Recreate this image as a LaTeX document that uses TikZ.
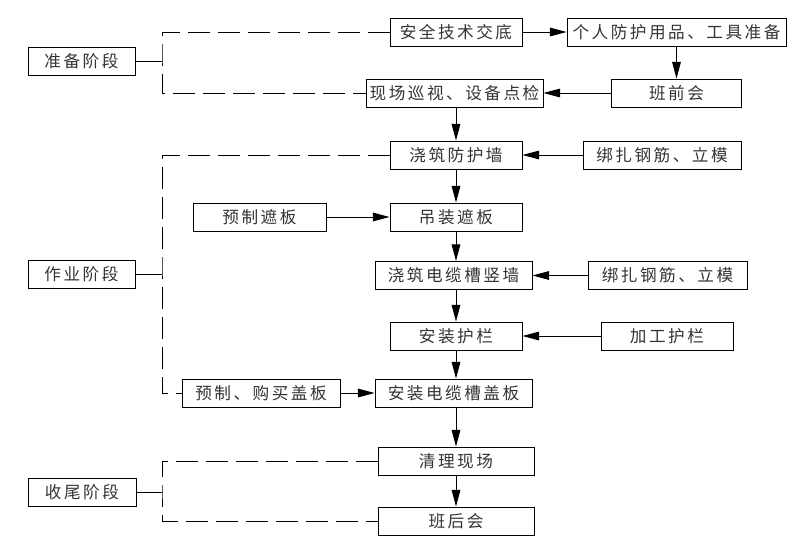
\documentclass[tikz,border=0pt]{standalone}
\usepackage{fontspec}
\newfontfamily\cjk[LetterSpace=15]{Noto Sans CJK SC}
\usepackage{tikz}
\usetikzlibrary{arrows.meta}

\begin{document}
\begin{tikzpicture}[x=0.03cm, y=-0.03cm,
    flowbox/.style={draw, line width=0.8pt, minimum height=28*0.03cm, inner sep=0pt,
      font=\cjk\fontsize{14.2}{17}\selectfont, text=black!80},
    arr/.style={line width=0.8pt, -{Triangle[length=5mm, width=2.6mm]}},
    dashline/.style={line width=0.8pt, dash pattern=on 0.66cm off 0.24cm},
    link/.style={line width=0.8pt}]
    \useasboundingbox (0,0) rectangle (803,549);
    % phase boxes
    \node[flowbox, minimum width=107*0.03cm] (prep) at (81.5,61.5) {准备阶段};
    \node[flowbox, minimum width=107*0.03cm] (work) at (81.5,274) {作业阶段};
    \node[flowbox, minimum width=108*0.03cm] (finish) at (82,492) {收尾阶段};
    % preparation
    \node[flowbox, minimum width=132*0.03cm] (jiaodi) at (456,32) {安全技术交底};
    \node[flowbox, minimum width=219*0.03cm] (fanghu) at (676.5,32) {个人防护用品、工具准备};
    \node[flowbox, minimum width=130*0.03cm] (banqian) at (676.5,93) {班前会};
    \node[flowbox, minimum width=177*0.03cm] (xunshi) at (454.5,93) {现场巡视、设备点检};
    % work
    \node[flowbox, minimum width=132*0.03cm] (qiang) at (456,155) {浇筑防护墙};
    \node[flowbox, minimum width=158*0.03cm] (gangjinA) at (662,155) {绑扎钢筋、立模};
    \node[flowbox, minimum width=133*0.03cm] (yuzhi) at (259.5,217) {预制遮板};
    \node[flowbox, minimum width=132*0.03cm] (diaozhuang) at (456,217) {吊装遮板};
    \node[flowbox, minimum width=157*0.03cm] (shuqiang) at (453.5,275.5) {浇筑电缆槽竖墙};
    \node[flowbox, minimum width=159*0.03cm] (gangjinB) at (667.5,275.5) {绑扎钢筋、立模};
    \node[flowbox, minimum width=132*0.03cm] (hulan) at (456,336) {安装护栏};
    \node[flowbox, minimum width=132*0.03cm] (jiagong) at (667,336) {加工护栏};
    \node[flowbox, minimum width=158*0.03cm] (goumai) at (261,393) {预制、购买盖板};
    \node[flowbox, minimum width=157*0.03cm] (gaiban) at (453.5,393) {安装电缆槽盖板};
    % finishing
    \node[flowbox, minimum width=156*0.03cm] (qingli) at (456,461) {清理现场};
    \node[flowbox, minimum width=156*0.03cm] (banhou) at (456,521) {班后会};

    % phase brackets
    \coordinate (brA) at (162,61.5);
    \coordinate (brB) at (162,274);
    \coordinate (brC) at (162,492);
    \draw[link] (prep) -- (brA);
    \draw[link] (work) -- (brB);
    \draw[link] (finish) -- (brC);
    \draw[dashline] (jiaodi) -| (brA) |- (xunshi);
    \draw[dashline] (qiang) -| (brB) |- (goumai);
    \draw[dashline] (qingli) -| (brC) |- (banhou);

    % flow arrows
    \draw[arr] (jiaodi) -- (fanghu);
    \draw[arr] (fanghu) -- (banqian);
    \draw[arr] (banqian) -- (xunshi);
    \draw[arr] (xunshi.south -| qiang) -- (qiang.north);
    \draw[arr] (gangjinA) -- (qiang);
    \draw[arr] (qiang) -- (diaozhuang);
    \draw[arr] (yuzhi) -- (diaozhuang);
    \draw[arr] (diaozhuang.south) -- (diaozhuang.south |- shuqiang.north);
    \draw[arr] (gangjinB) -- (shuqiang);
    \draw[arr] (shuqiang.south -| hulan) -- (hulan.north);
    \draw[arr] (jiagong) -- (hulan);
    \draw[arr] (hulan.south) -- (hulan.south |- gaiban.north);
    \draw[arr] (goumai) -- (gaiban);
    \draw[arr] (gaiban.south -| qingli) -- (qingli.north);
    \draw[arr] (qingli) -- (banhou);
\end{tikzpicture}
\end{document}
